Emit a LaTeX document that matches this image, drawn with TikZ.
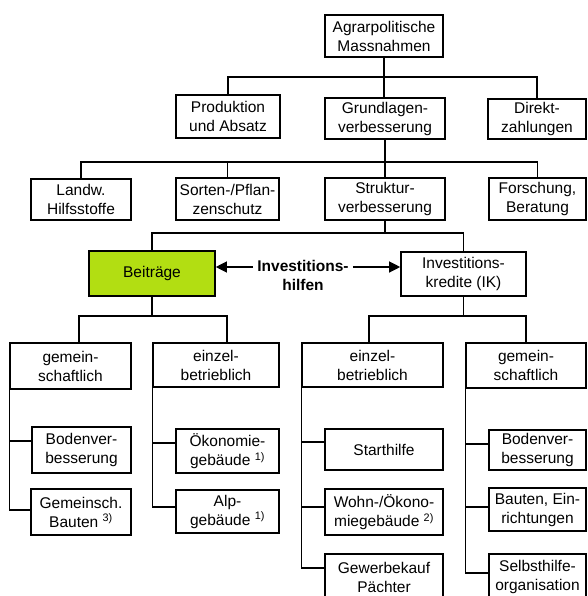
\documentclass[tikz,border=0pt]{standalone}
\usepackage{fontspec}
\setmainfont{Liberation Sans}
\usetikzlibrary{arrows.meta}
\definecolor{beitragsgruen}{RGB}{178,222,18}

\begin{document}
\begin{tikzpicture}[x=1pt, y=-1pt,
      box/.style ={draw, line width=1.6pt, align=center, inner sep=0pt, font=\fontsize{15.5}{19}\selectfont},
      boxsize/.style 2 args={minimum width=#1, minimum height=#2},
      link/.style ={line width=1.2pt},
      arr/.style ={line width=1.2pt, -{Triangle[length=11pt,width=11pt]}}
    ]
    \useasboundingbox (0,0) rectangle (587,596);

    \node [box, boxsize={118pt}{42pt}] (agrar) at (384,36) {Agrarpolitische\\Massnahmen} ;
    \node [box, boxsize={104pt}{43pt}] (prod) at (228,116.5) {Produktion\\und Absatz} ;
    \node [box, boxsize={120pt}{41pt}] (grund) at (385,118.5) {Grundlagen-\\verbesserung} ;
    \node [box, boxsize={98pt}{40pt}] (direkt) at (537,119) {Direkt-\\zahlungen} ;

    \node [box, boxsize={100pt}{41pt}] (landw) at (81,199.5) {Landw.\\Hilfsstoffe} ;
    \node [box, boxsize={103pt}{42pt}] (sorten) at (227.5,199) {Sorten-/Pflan-\\zenschutz} ;
    \node [box, boxsize={120pt}{42pt}] (struktur) at (385,199) {Struktur-\\verbesserung} ;
    \node [box, boxsize={97pt}{42pt}] (forschung) at (537.5,199) {Forschung,\\Beratung} ;

    \node [box, boxsize={126pt}{45pt}, fill=beitragsgruen] (beitraege) at (152,273.5) {Beiträge} ;
    \node [box, boxsize={125pt}{44pt}] (kredite) at (463.5,274) {Investitions-\\kredite (IK)} ;
    \node [align=center, inner sep=4pt, font=\fontsize{15.5}{19}\selectfont\bfseries] (hilfen) at (303,275) {Investitions-\\hilfen} ;

    \node [box, boxsize={121pt}{46pt}] (gem1) at (70.5,366) {gemein-\\schaftlich} ;
    \node [box, boxsize={126pt}{44pt}] (einz1) at (216,365) {einzel-\\betrieblich} ;
    \node [box, boxsize={99pt}{46pt}] (boden1) at (81.5,450) {Bodenver-\\besserung} ;
    \node [box, boxsize={100pt}{46pt}] (gbauten) at (81,512) {Gemeinsch.\\Bauten \textsuperscript{3)}} ;
    \node [box, boxsize={103pt}{44pt}] (oekon) at (227.5,451) {Ökonomie-\\gebäude \textsuperscript{1)}} ;
    \node [box, boxsize={103pt}{43pt}] (alp) at (227.5,511.5) {Alp-\\gebäude \textsuperscript{1)}} ;

    \node [box, boxsize={141pt}{44pt}] (einz2) at (372.5,365) {einzel-\\betrieblich} ;
    \node [box, boxsize={120pt}{45pt}] (gem2) at (526,365.5) {gemein-\\schaftlich} ;
    \node [box, boxsize={118pt}{41pt}] (start) at (384,449.5) {Starthilfe} ;
    \node [box, boxsize={118pt}{46pt}] (wohn) at (384,512) {Wohn-/Ökono-\\miegebäude \textsuperscript{2)}} ;
    \node [box, boxsize={118pt}{46pt}] (gewerbe) at (384,577) {Gewerbekauf\\Pächter} ;
    \node [box, boxsize={97pt}{40pt}] (boden2) at (537.5,450) {Bodenver-\\besserung} ;
    \node [box, boxsize={97pt}{43pt}] (bauten2) at (537.5,509.5) {Bauten, Ein-\\richtungen} ;
    \node [box, boxsize={97pt}{46pt}] (selbst) at (537.5,577) {Selbsthilfe-\\organisation} ;

    \coordinate (bus1) at (0,77) ;
    \coordinate (bus2) at (0,162) ;
    \coordinate (bus3) at (0,233) ;
    \coordinate (bus4) at (0,316) ;
    \coordinate (g1top) at ([xshift=8.5pt]gem1.north) ;
    \coordinate (e1top) at ([xshift=11pt]einz1.north) ;
    \coordinate (e2top) at ([xshift=-3.5pt]einz2.north) ;

    \draw [link] (agrar.south) -- (agrar.south |- grund.north) ;
    \draw [link] (prod.north) |- (bus1 -| direkt.north) -- (direkt.north) ;
    \draw [link] (grund.south) -- (struktur.north) ;
    \draw [link] (landw.north) |- (bus2 -| forschung.north) -- (forschung.north) ;
    \draw [link] (sorten.north) -- (sorten.north |- bus2) ;
    \draw [link] (struktur.south) -- (struktur.south |- bus3) ;
    \draw [link] (beitraege.north) |- (bus3 -| kredite.north) -- (kredite.north) ;

    \draw [arr] ([yshift=8pt]hilfen.west) -- ([yshift=6.5pt]beitraege.east) ;
    \draw [arr] ([yshift=8pt]hilfen.east) -- ([yshift=7pt]kredite.west) ;

    \draw [link] (beitraege.south) -- (beitraege.south |- bus4) ;
    \draw [link] (g1top) |- (bus4 -| e1top) -- (e1top) ;
    \draw [link] (kredite.south) -- (kredite.south |- bus4) ;
    \draw [link] (e2top) |- (bus4 -| gem2.north) -- (gem2.north) ;

    \foreach \trunk/\leaf/\dy in {gem1/boden1/9, gem1/gbauten/2, einz1/oekon/8, einz1/alp/4.5,
        einz2/start/7.5, einz2/wohn/5, einz2/gewerbe/9, gem2/boden2/6, gem2/bauten2/2.5, gem2/selbst/4}
      \draw [link] ([yshift=\dy pt]\leaf.west) -| (\trunk.south west) ;
  \end{tikzpicture}
\end{document}
